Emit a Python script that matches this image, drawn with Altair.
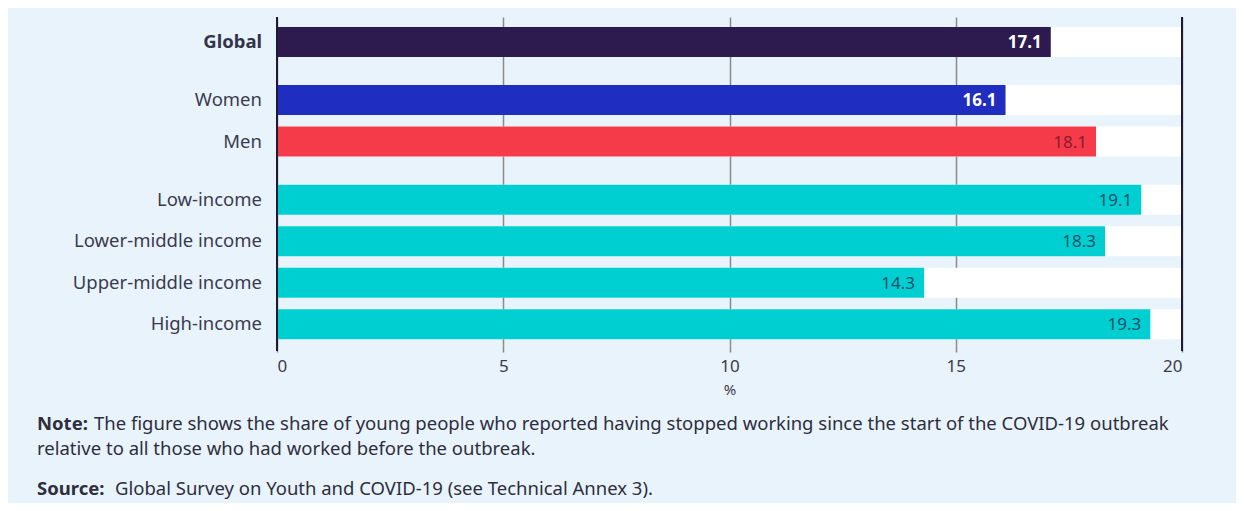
import altair as alt
import pandas as pd

categories = ["Global", "Women", "Men", "Low-income", "Lower-middle income",
              "Upper-middle income", "High-income"]
values = [17.1, 16.1, 18.1, 19.1, 18.3, 14.3, 19.3]
groups = ["Global", "Sex", "Sex", "Income", "Income", "Income", "Income"]
x_ticks = [0, 5, 10, 15, 20]
x_max = 20

bar_colors = ["#2d1a4e", "#1f2ec0", "#f53b49", "#00cfd2", "#00cfd2", "#00cfd2", "#00cfd2"]
text_colors = ["#ffffff", "#ffffff", "#8c1b2c", "#17506a", "#17506a", "#17506a", "#17506a"]

note_bold = "Note:"
note_1 = "The figure shows the share of young people who reported having stopped working since the start of the COVID-19 outbreak"
note_2 = "relative to all those who had worked before the outbreak."
source_bold = "Source:"
source_txt = "Global Survey on Youth and COVID-19 (see Technical Annex 3)."

# row positions: one step per row, with an extra 0.4-step gap between groups
group_order = []
for g in groups:
    if g not in group_order:
        group_order.append(g)
pos = [i + 0.4 * group_order.index(g) for i, g in enumerate(groups)]

df = pd.DataFrame({"category": categories, "value": values, "group": groups,
                   "pos": pos, "full": [x_max] * len(categories),
                   "zero": [0] * len(categories)})

FONT = "Noto Sans"
W, H = 905, 328

yscale = alt.Scale(domain=[-0.6, 7.3], reverse=True, nice=False, zero=False, padding=0)
xscale = alt.Scale(domain=[0, x_max], nice=False, padding=0)
Y = alt.Y("pos:Q", scale=yscale, axis=None)

base = alt.Chart(df)

bg = base.mark_bar(size=30, orient="horizontal", color="white").encode(
    x=alt.X("zero:Q", scale=xscale,
            axis=alt.Axis(values=x_ticks, grid=True, gridColor="#8a8a8a", gridWidth=1.5,
                          domain=False, tickColor="#8a8a8a", tickWidth=1.5, tickSize=7,
                          labelFontSize=17, labelColor="#3b3b4a", labelFont=FONT,
                          labelPadding=6, title="%", titleFont=FONT, titleFontSize=15,
                          titleFontWeight="normal", titleColor="#3b3b4a", titlePadding=8)),
    x2="full:Q",
    y=Y,
)

bars = base.mark_bar(size=30, orient="horizontal").encode(
    x=alt.X("value:Q", scale=xscale),
    y=Y,
    color=alt.Color("category:N", scale=alt.Scale(domain=categories, range=bar_colors),
                    legend=None),
)

vt_color = alt.Color("category:N", scale=alt.Scale(domain=categories, range=text_colors),
                     legend=None)

val_bold = base.transform_filter(
    alt.FieldOneOfPredicate(field="category", oneOf=categories[:2])
).mark_text(align="right", baseline="middle", dx=-9, dy=1, font=FONT, fontSize=17,
            fontWeight="bold").encode(
    x=alt.X("value:Q", scale=xscale), y=Y, text=alt.Text("value:Q", format=".1f"),
    color=vt_color)

val_norm = base.transform_filter(
    alt.FieldOneOfPredicate(field="category", oneOf=categories[2:])
).mark_text(align="right", baseline="middle", dx=-9, dy=1, font=FONT, fontSize=17,
            fontWeight="normal").encode(
    x=alt.X("value:Q", scale=xscale), y=Y, text=alt.Text("value:Q", format=".1f"),
    color=vt_color)

lab_bold = base.transform_filter(alt.datum.category == categories[0]).mark_text(
    align="right", baseline="middle", font=FONT, fontSize=18.5, fontWeight="bold",
    color="#33334a").encode(x=alt.value(-15), y=Y, text="category:N")

lab_norm = base.transform_filter(alt.datum.category != categories[0]).mark_text(
    align="right", baseline="middle", font=FONT, fontSize=18.5, fontWeight="normal",
    color="#3b3b4f").encode(x=alt.value(-15), y=Y, text="category:N")

rules = alt.Chart(pd.DataFrame({"v": [0, x_max]})).mark_rule(
    color="#1e1a33", strokeWidth=2).encode(
    x=alt.X("v:Q", scale=xscale), y=alt.value(0), y2=alt.value(H + 6))

def note(text, x, y, bold):
    return alt.Chart(pd.DataFrame({"t": [text]})).mark_text(
        align="left", baseline="middle", font=FONT, fontSize=18.5,
        fontWeight="bold" if bold else "normal", color="#2e2e3e").encode(
        x=alt.value(x), y=alt.value(y), text="t:N")

notes = [
    note(note_bold, -240, 407, True),
    note(note_1, -183, 407, False),
    note(note_2, -240, 432, False),
    note(source_bold, -240, 472, True),
    note(source_txt, -162, 472, False),
]

chart = alt.layer(bg, bars, rules, val_bold, val_norm, lab_bold, lab_norm, *notes).resolve_scale(
    color="independent"
).properties(
    width=W, height=H,
    background="#e9f3fc",
    autosize=alt.AutoSizeParams(type="none"),
    padding={"left": 269, "top": 9, "right": 54, "bottom": 158},
).configure_view(stroke=None)

chart.save("out.html", embed_options={"renderer": "svg", "actions": False})
